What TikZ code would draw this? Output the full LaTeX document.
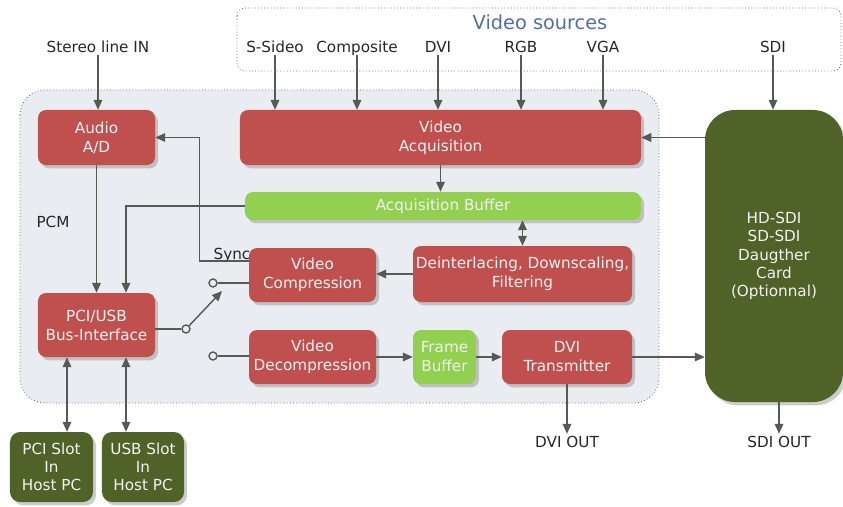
\documentclass[tikz,border=0pt]{standalone}
\usepackage{fontspec}
\setmainfont{DejaVu Sans}
\usetikzlibrary{calc,arrows.meta,shadows}
\definecolor{boxred}{HTML}{C0504D}
\definecolor{boxgreen}{HTML}{92D050}
\definecolor{cardolive}{HTML}{4F6228}
\definecolor{panelgrey}{HTML}{E9EDF2}
\definecolor{wiregrey}{HTML}{555A55}
\definecolor{titleblue}{HTML}{4F6FA0}
\definecolor{boxtext}{HTML}{F2F2F2}
\definecolor{labeltext}{HTML}{262626}

\tikzset{
  blk/.style={rounded corners=0.24cm, align=center, text=boxtext, inner sep=0pt,
    font=\fontsize{13}{16.2}\selectfont,
    drop shadow={opacity=0.4, shadow xshift=0.09cm, shadow yshift=-0.1cm}},
  redblk/.style={blk, fill=boxred},
  greenblk/.style={blk, fill=boxgreen},
  oliveblk/.style={blk, fill=cardolive, font=\fontsize{13}{15.6}\selectfont},
  lbl/.style={text=labeltext, inner sep=2pt, text depth=0pt, font=\fontsize{13}{16}\selectfont},
  frame/.style={dotted, draw=black!60, line width=0.7pt},
  plain/.style={draw=wiregrey, line width=1.2pt},
  wire/.style={plain, -{Triangle[length=0.3cm,width=0.26cm]}},
  biwire/.style={plain, {Triangle[length=0.3cm,width=0.26cm]}-{Triangle[length=0.3cm,width=0.26cm]}},
  swpin/.style={circle, draw=wiregrey, fill=panelgrey, line width=1.2pt, inner sep=0pt, minimum size=0.24cm}
}

\begin{document}
\begin{tikzpicture}[x=0.03cm, y=-0.03cm]
    \useasboundingbox (0,0) rectangle (843,507);

    % frames
    \draw[frame, rounded corners=0.24cm] (237,8) rectangle (841,71);
    \draw[frame, fill=panelgrey, rounded corners=0.75cm] (20,90) rectangle (659,403);
    \node[font=\fontsize{16.5}{20}\selectfont, text=titleblue] (srctitle) at (540,22) {Video sources};

    % inputs and outputs
    \node[lbl] (stereo) at (98,47) {Stereo line IN};
    \node[lbl] (ssideo) at (275,47) {S-Sideo};
    \node[lbl] (composite) at (357,47) {Composite};
    \node[lbl] (dviin) at (438,47) {DVI};
    \node[lbl] (rgb) at (521,47) {RGB};
    \node[lbl] (vga) at (603,47) {VGA};
    \node[lbl] (sdiin) at (773,47) {SDI};
    \node[lbl] (dviout) at (567,442) {DVI OUT};
    \node[lbl] (sdiout) at (779,442) {SDI OUT};
    \node[lbl] (pcm) at (53,222) {PCM};
    \node[lbl, anchor=base west] (sync) at (211,259) {Sync};

    % blocks
    \node[redblk, minimum width=3.51cm, minimum height=1.65cm] (audio) at (96.5,137.5) {Audio\\A/D};
    \node[redblk, minimum width=12.03cm, minimum height=1.65cm] (vacq) at (440.5,137.5) {Video\\Acquisition};
    \node[greenblk, minimum width=11.88cm, minimum height=0.84cm] (acqbuf) at (443,206) {Acquisition Buffer};
    \node[redblk, minimum width=3.81cm, minimum height=1.62cm] (vcomp) at (312.5,275) {Video\\Compression};
    \node[redblk, minimum width=6.57cm, minimum height=1.68cm] (deint) at (522.5,274) {Deinterlacing, Downscaling,\\Filtering};
    \node[redblk, minimum width=3.51cm, minimum height=1.92cm] (busif) at (96.5,325) {PCI/USB\\Bus-Interface};
    \node[redblk, minimum width=3.81cm, minimum height=1.62cm] (vdecomp) at (312.5,357) {Video\\Decompression};
    \node[greenblk, minimum width=1.89cm, minimum height=1.62cm] (framebuf) at (444.5,357) {Frame\\Buffer};
    \node[redblk, minimum width=3.9cm, minimum height=1.62cm] (dvitx) at (567,357) {DVI\\Transmitter};
    \node[oliveblk, rounded corners=0.9cm, minimum width=4.14cm, minimum height=8.76cm] (sdicard) at (774,256) {HD-SDI\\SD-SDI\\Daugther\\Card\\(Optionnal)};
    \node[oliveblk, rounded corners=0.3cm, minimum width=2.49cm, minimum height=2.1cm] (pcislot) at (51.5,467) {PCI Slot\\In\\Host PC};
    \node[oliveblk, rounded corners=0.3cm, minimum width=2.46cm, minimum height=2.1cm] (usbslot) at (143,467) {USB Slot\\In\\Host PC};

    % switch
    \node[swpin] (swpc) at (186,329) {};
    \node[swpin] (swcomp) at (213,283) {};
    \node[swpin] (swdecomp) at (213,356) {};
    \coordinate (swtip) at (222,291);

    % connectors
    \foreach \src/\dst in {stereo/audio, ssideo/vacq, composite/vacq, dviin/vacq, rgb/vacq, vga/vacq, sdiin/sdicard}
        \draw[wire] (\src.south) -- (\src.south |- \dst.north);
    \draw[wire] (sdicard.west |- vacq.east) -- (vacq.east);
    \draw[wire] (vacq.south) -- (vacq.south |- acqbuf.north);
    \draw[biwire] (acqbuf.south -| deint.north) -- (deint.north);
    \draw[wire] (deint.west) -- (deint.west -| vcomp.east);
    \draw[wire] (acqbuf.west) -| ([xshift=0.885cm]busif.north);
    \draw[wire] (audio.south) -- (audio.south |- busif.north);
    \draw[wire] ([yshift=0.42cm]vcomp.west) -- ++(-49,0) |- (audio.east);
    \draw[plain] (busif.east |- swpc) -- (swpc);
    \draw[plain] (swcomp) -- (swcomp -| vcomp.west);
    \draw[plain] (swdecomp) -- (swdecomp -| vdecomp.west);
    \draw[wire] (swpc) -- (swtip);
    \draw[wire] (vdecomp.east) -- (vdecomp.east -| framebuf.west);
    \draw[wire] (framebuf.east) -- (framebuf.east -| dvitx.west);
    \draw[wire] (dvitx.east) -- (dvitx.east -| sdicard.west);
    \draw[wire] (dvitx.south) -- (dvitx.south |- dviout.north);
    \draw[wire] (sdicard.south -| sdiout.north) -- (sdiout.north);
    \draw[biwire] ([xshift=-0.885cm]busif.south) -- ([xshift=-0.885cm]busif.south |- pcislot.north);
    \draw[biwire] ([xshift=0.885cm]busif.south) -- ([xshift=0.885cm]busif.south |- usbslot.north);
\end{tikzpicture}
\end{document}
